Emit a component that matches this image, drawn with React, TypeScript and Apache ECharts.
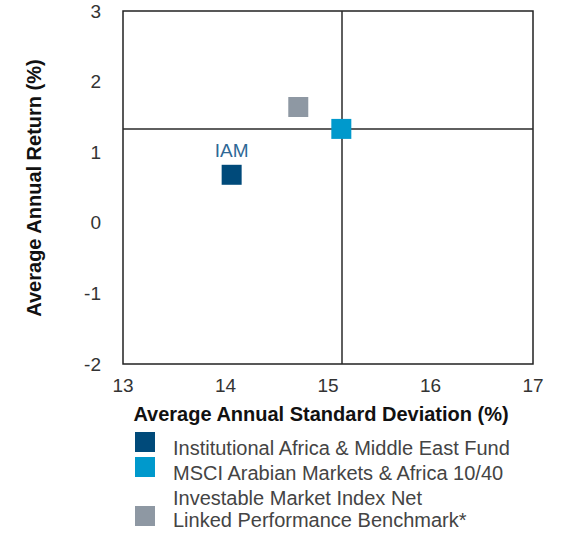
import React, { useEffect, useRef } from "react";
import * as echarts from "echarts";

const seriesNames = [
  "Institutional Africa & Middle East Fund",
  "MSCI Arabian Markets & Africa 10/40",
  "Investable Market Index Net\nLinked Performance Benchmark*",
];
const stdDev = [14.06, 15.13, 14.71];
const annualReturn = [0.68, 1.33, 1.64];
const pointLabels = ["IAM", "", ""];
const colors = ["#004a7a", "#0099cc", "#8e98a3"];
const xTicks = [13, 14, 15, 16, 17];
const yTicks = [-2, -1, 0, 1, 2, 3];

const FONT = "'Liberation Sans', Arial, sans-serif";

export default function App() {
  const ref = useRef<HTMLDivElement>(null);
  useEffect(() => {
    if (!ref.current) return;
    const chart = echarts.init(ref.current, undefined, { renderer: "svg" });
    const series: any[] = seriesNames.map((name, i) => ({
      name,
      type: "scatter",
      symbol: "rect",
      symbolSize: 20,
      z: 5,
      itemStyle: { color: colors[i], opacity: 1 },
      data: [[stdDev[i], annualReturn[i]]],
      label: {
        show: !!pointLabels[i],
        position: "top",
        distance: 5,
        formatter: () => pointLabels[i],
        color: "#2e6896",
        fontSize: 19,
        fontFamily: "'Liberation Sans Narrow', 'Liberation Sans', Arial, sans-serif",
      },
      markLine:
        i === 1
          ? {
              silent: true,
              symbol: "none",
              z: 1,
              label: { show: false },
              lineStyle: { color: "#2a2a2a", width: 1.5, type: "solid" },
              data: [{ xAxis: stdDev[1] }, { yAxis: annualReturn[1] }],
            }
          : undefined,
    }));

    const legendTop = [432, 457, 506];
    const legendTextY = [448, 473, 509];
    const graphic: any[] = [
      {
        type: "text",
        x: 34,
        y: 188,
        rotation: Math.PI / 2,
        style: {
          text: "Average Annual Return (%)",
          font: `bold 20px ${FONT}`,
          fill: "#111",
          align: "center",
          verticalAlign: "middle",
        },
      },
      {
        type: "text",
        x: 321,
        y: 414,
        style: {
          text: "Average Annual Standard Deviation (%)",
          font: `bold 20px ${FONT}`,
          fill: "#111",
          align: "center",
          verticalAlign: "middle",
        },
      },
    ];
    seriesNames.forEach((name, i) => {
      graphic.push({
        type: "rect",
        shape: { x: 135, y: legendTop[i], width: 20, height: 20 },
        style: { fill: colors[i] },
      });
      graphic.push({
        type: "text",
        x: 173,
        y: legendTextY[i],
        style: {
          text: name,
          font: `20px ${FONT}`,
          fill: "#444",
          align: "left",
          verticalAlign: "middle",
          lineHeight: 22,
        },
      });
    });

    chart.setOption({
      animation: false,
      grid: {
        left: 123,
        right: 31,
        top: 11,
        bottom: 169,
        show: true,
        borderColor: "#222",
        borderWidth: 1.5,
        backgroundColor: "transparent",
      },
      xAxis: {
        type: "value",
        min: xTicks[0],
        max: xTicks[xTicks.length - 1],
        interval: 1,
        axisLine: { show: false },
        axisTick: { show: false },
        splitLine: { show: false },
        axisLabel: {
          margin: 12,
          color: "#333",
          fontSize: 19,
          fontFamily: FONT,
        },
      },
      yAxis: {
        type: "value",
        min: yTicks[0],
        max: yTicks[yTicks.length - 1],
        interval: 1,
        axisLine: { show: false },
        axisTick: { show: false },
        splitLine: { show: false },
        axisLabel: {
          margin: 22,
          color: "#333",
          fontSize: 19,
          fontFamily: FONT,
        },
      },
      graphic,
      series,
    });
    return () => chart.dispose();
  }, []);
  return (
    <div
      ref={ref}
      style={{ position: "absolute", left: 0, top: 0, width: 564, height: 533 }}
    />
  );
}
